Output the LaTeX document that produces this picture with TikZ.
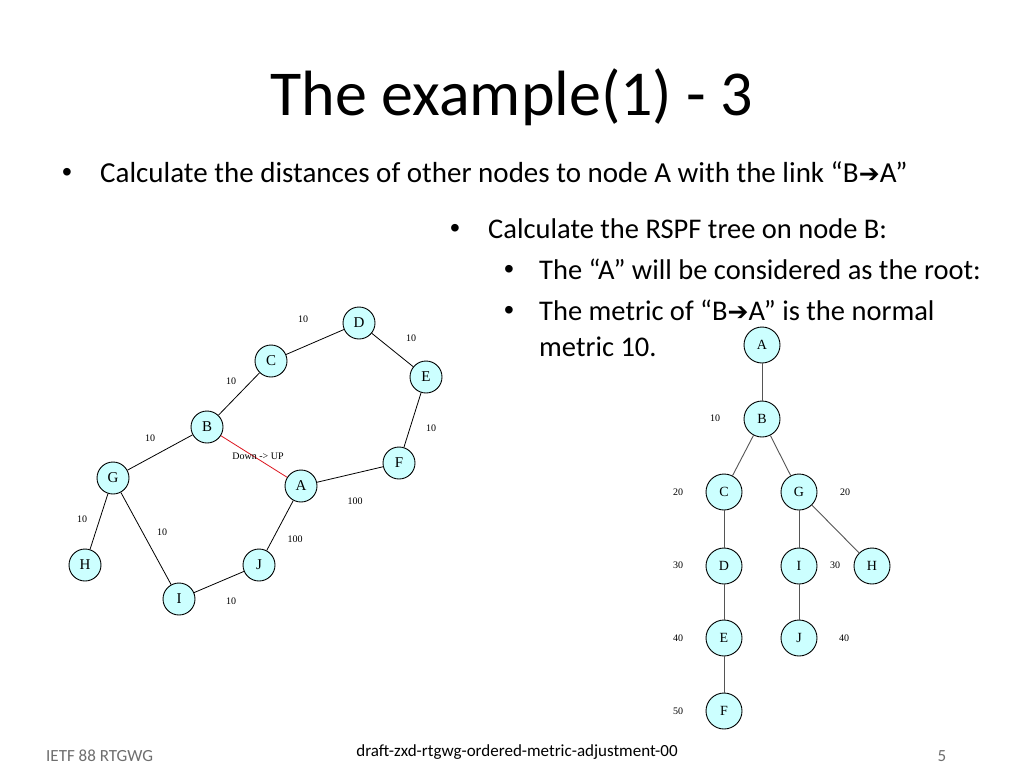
\documentclass[tikz,border=0pt]{standalone}
\usepackage{fontspec}
\setmainfont{Carlito}
\newfontfamily\tms{Liberation Serif}
\newfontfamily\arr{DejaVu Sans}
\newfontfamily\bulf{Liberation Sans}
\definecolor{cyanfill}{RGB}{204,255,255}
\definecolor{footgray}{RGB}{110,110,110}
\definecolor{treeline}{RGB}{85,85,85}
\definecolor{linkred}{RGB}{220,20,30}
\newcommand{\barrow}{{\arr\bfseries\fontsize{25}{25}\selectfont ➔}}
\begin{document}
\begin{tikzpicture}[x=1pt,y=-1pt,
  gn/.style={circle,draw=black,fill=cyanfill,line width=0.9pt,minimum size=32pt,inner sep=0pt,font=\tms\fontsize{15}{15}\selectfont},
  tn/.style={circle,draw=black,fill=cyanfill,line width=0.9pt,minimum size=36pt,inner sep=0pt,font=\tms\fontsize{14}{14}\selectfont},
  lbl/.style={inner sep=0pt,font=\tms\fontsize{10}{10}\selectfont},
  gedge/.style={line width=0.8pt,draw=black},
  tedge/.style={line width=0.9pt,draw=treeline},
  body/.style={anchor=base west,inner sep=0pt,font=\fontsize{29}{29}\selectfont},
  body2/.style={anchor=base west,inner sep=0pt,font=\fontsize{28.5}{28.5}\selectfont},
  bul/.style={anchor=base,inner sep=0pt,font=\bulf\fontsize{28}{28}\selectfont},
  foot/.style={anchor=base,inner sep=0pt,font=\fontsize{17}{17}\selectfont}]
\useasboundingbox (0,0) rectangle (1024,768);
\fill[white] (0,0) rectangle (1024,768);

% title
\node[anchor=base,inner sep=0pt,font=\fontsize{64}{64}\selectfont] (title) at (512,115) {The example(1) - 3};

% top bullet
\node[bul] (b1) at (67,181) {•};
\node[body] (t1) at (100,182) {Calculate the distances of other nodes to node A with the link “B\barrow A”};

% right text block
\node[bul] (b2) at (455,237) {•};
\node[body2] (t2) at (488,238) {Calculate the RSPF tree on node B:};
\node[bul] (b3) at (509,278) {•};
\node[body2] (t3) at (539,279) {The “A” will be considered as the root:};
\node[bul] (b4) at (509,319) {•};
\node[body2] (t4) at (539,320) {The metric of “B\barrow A” is the normal};
\node[body2] (t5) at (539,356) {metric 10.};

% left graph nodes
\node[gn] (D) at (359,323) {D};
\node[gn] (C) at (271,361) {C};
\node[gn] (E) at (426,377) {E};
\node[gn] (B) at (207,427) {B};
\node[gn] (F) at (399,463) {F};
\node[gn] (G) at (113,478) {G};
\node[gn] (A) at (301,486) {A};
\node[gn] (H) at (85,565) {H};
\node[gn] (J) at (259,565) {J};
\node[gn] (I) at (179,599) {I};

\draw[gedge] (C) -- (D);
\draw[gedge] (D) -- (E);
\draw[gedge] (B) -- (C);
\draw[gedge] (E) -- (F);
\draw[gedge] (G) -- (B);
\draw[gedge] (A) -- (F);
\draw[gedge] (G) -- (H);
\draw[gedge] (G) -- (I);
\draw[gedge] (A) -- (J);
\draw[gedge] (I) -- (J);
\draw[line width=0.8pt,draw=linkred] (B) -- (A);

\node[lbl] (lCD) at (303,319) {10};
\node[lbl] (lDE) at (411,338) {10};
\node[lbl] (lBC) at (231,381) {10};
\node[lbl] (lEF) at (431,428) {10};
\node[lbl] (lGB) at (150,438) {10};
\node[lbl] (lBA) at (258,456) {Down -> UP};
\node[lbl] (lAF) at (355,501) {100};
\node[lbl] (lGH) at (82,519) {10};
\node[lbl] (lGI) at (162,532) {10};
\node[lbl] (lAJ) at (295,539) {100};
\node[lbl] (lIJ) at (231,601) {10};

% right tree
\node[tn] (tA) at (762,345) {A};
\node[tn] (tB) at (762,419) {B};
\node[tn] (tC) at (724,492) {C};
\node[tn] (tG) at (799,492) {G};
\node[tn] (tD) at (724,566) {D};
\node[tn] (tI) at (799,566) {I};
\node[tn] (tH) at (872,566) {H};
\node[tn] (tE) at (724,638) {E};
\node[tn] (tJ) at (799,638) {J};
\node[tn] (tF) at (724,711) {F};

\draw[tedge] (tA) -- (tB);
\draw[tedge] (tB) -- (tC);
\draw[tedge] (tB) -- (tG);
\draw[tedge] (tC) -- (tD);
\draw[tedge] (tD) -- (tE);
\draw[tedge] (tE) -- (tF);
\draw[tedge] (tG) -- (tI);
\draw[tedge] (tI) -- (tJ);
\draw[tedge] (tG) -- (tH);

\node[lbl] (d10) at (715,418) {10};
\node[lbl] (d20a) at (678,492) {20};
\node[lbl] (d20b) at (845,492) {20};
\node[lbl] (d30a) at (678,565) {30};
\node[lbl] (d30b) at (835,565) {30};
\node[lbl] (d40a) at (678,638) {40};
\node[lbl] (d40b) at (844,638) {40};
\node[lbl] (d50) at (678,711) {50};

% footer
\node[foot,anchor=base west,text=footgray] (f1) at (46,761) {IETF 88 RTGWG};
\node[foot] (f2) at (517,756) {draft-zxd-rtgwg-ordered-metric-adjustment-00};
\node[foot,text=footgray] (f3) at (942,761) {5};
\end{tikzpicture}
\end{document}
